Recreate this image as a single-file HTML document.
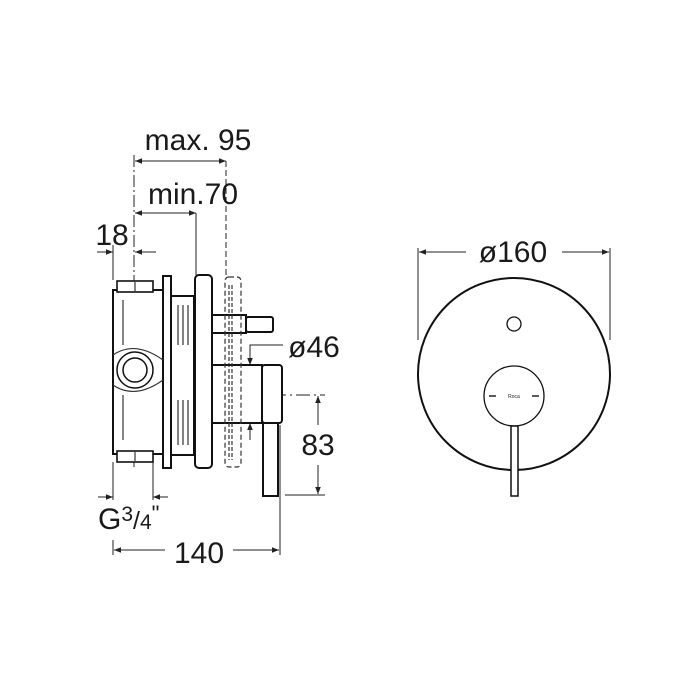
<!DOCTYPE html>
<html><head><style>body{margin:0;background:#fff}svg{display:block}text{font-family:"Liberation Sans",sans-serif;fill:#1a1a1a}</style></head>
<body>
<svg width="700" height="700" viewBox="0 0 700 700" xmlns="http://www.w3.org/2000/svg">
<defs>
<marker id="a" viewBox="0 0 10 10" refX="10" refY="5" markerWidth="9" markerHeight="7" orient="auto-start-reverse" markerUnits="userSpaceOnUse"><path d="M0,1 L10,5 L0,9 Z" fill="#222"/></marker>
</defs>
<g stroke="#222" fill="none" stroke-width="1">
<line x1="135" y1="161" x2="226" y2="161" marker-start="url(#a)" marker-end="url(#a)"/>
<line x1="135" y1="213" x2="196" y2="213" marker-start="url(#a)" marker-end="url(#a)"/>
<line x1="97" y1="252" x2="113" y2="252" marker-end="url(#a)"/>
<line x1="156" y1="252" x2="135" y2="252" marker-end="url(#a)"/>
<line x1="134" y1="155" x2="134" y2="470" stroke-dasharray="12,3,2,3"/>
<line x1="113" y1="245" x2="113" y2="280"/>
<line x1="196" y1="213" x2="196" y2="275"/>
<line x1="226" y1="161" x2="226" y2="275" stroke-dasharray="6,3"/>
<polyline points="283,345 250,345 250,365" marker-end="url(#a)"/>
<line x1="250" y1="440" x2="250" y2="423" marker-end="url(#a)"/>
<line x1="200" y1="395" x2="325" y2="395" stroke-dasharray="14,4,2,4"/>
<line x1="285" y1="495" x2="325" y2="495"/>
<line x1="318" y1="425" x2="318" y2="396" marker-end="url(#a)"/>
<line x1="318" y1="465" x2="318" y2="494" marker-end="url(#a)"/>
<line x1="113" y1="462" x2="113" y2="500"/>
<line x1="153" y1="462" x2="153" y2="500"/>
<line x1="98" y1="497" x2="113" y2="497" marker-end="url(#a)"/>
<line x1="168" y1="497" x2="153" y2="497" marker-end="url(#a)"/>
<line x1="113" y1="540" x2="113" y2="555"/>
<line x1="280" y1="425" x2="280" y2="555"/>
<line x1="165" y1="550" x2="114" y2="550" marker-end="url(#a)"/>
<line x1="233" y1="550" x2="279" y2="550" marker-end="url(#a)"/>
<line x1="418" y1="248" x2="418" y2="340"/>
<line x1="610" y1="248" x2="610" y2="340"/>
<line x1="466" y1="252" x2="419" y2="252" marker-end="url(#a)"/>
<line x1="562" y1="252" x2="609" y2="252" marker-end="url(#a)"/>
</g>
<g stroke="#111" fill="#fff" stroke-width="2">
<rect x="113" y="290" width="50" height="164"/>
<rect x="117" y="281" width="36" height="11" stroke-width="1.6"/>
<rect x="117" y="451" width="36" height="11" stroke-width="1.6"/>
<circle cx="135" cy="370" r="18" stroke-width="1.5"/>
<circle cx="135" cy="370" r="12" stroke-width="1.5"/>
<rect x="163" y="276" width="8" height="192"/>
<rect x="171" y="296" width="23" height="159"/>
<rect x="195" y="275" width="17" height="193" rx="4"/>
<rect x="212" y="315" width="34" height="18"/>
<rect x="246" y="317" width="27" height="15" rx="2"/>
<rect x="212" y="365" width="50" height="58"/>
<rect x="262" y="365" width="20" height="58" rx="3"/>
<rect x="263" y="423" width="15" height="73"/>
</g>
<g stroke="#333" stroke-width="1.2" fill="none">
<line x1="135" y1="282" x2="135" y2="291"/><line x1="135" y1="452" x2="135" y2="461"/>
<rect x="225" y="277" width="16" height="190" rx="4" stroke-dasharray="5,3"/>
<line x1="229" y1="285" x2="229" y2="460" stroke-dasharray="4,2"/>
<line x1="232" y1="285" x2="232" y2="460" stroke-dasharray="4,2"/>
<path d="M113,355 Q135,340 163,360 M113,385 Q135,400 163,380"/>
<line x1="123" y1="300" x2="123" y2="345"/>
<line x1="123" y1="395" x2="123" y2="440"/>
<line x1="178" y1="305" x2="178" y2="345"/><line x1="183" y1="305" x2="183" y2="345"/><line x1="188" y1="305" x2="188" y2="345"/>
<line x1="178" y1="400" x2="178" y2="445"/><line x1="183" y1="400" x2="183" y2="445"/><line x1="188" y1="400" x2="188" y2="445"/>
</g>
<g stroke="#111" fill="#fff" stroke-width="2">
<circle cx="514" cy="374" r="96"/>
<circle cx="514" cy="324" r="7" stroke-width="1.3"/>
<circle cx="514" cy="396" r="30" stroke-width="1.3"/>
<rect x="511" y="426" width="7" height="70" stroke-width="1.5"/>
</g>
<g stroke="#222" stroke-width="1.5"><line x1="489" y1="396" x2="496" y2="396"/><line x1="532" y1="396" x2="539" y2="396"/></g>
<text x="514" y="398" font-size="5" text-anchor="middle">Roca</text>
<g font-size="30">
<text x="198" y="150" text-anchor="middle">max. 95</text>
<text x="193" y="204" text-anchor="middle">min.70</text>
<text x="112" y="245" text-anchor="middle">18</text>
<text x="314" y="357" text-anchor="middle">ø46</text>
<text x="318" y="455" text-anchor="middle">83</text>
<text x="199" y="563" text-anchor="middle">140</text>
<text x="513" y="262" text-anchor="middle">ø160</text>
<text x="98" y="529">G<tspan font-size="21" dy="-8">3</tspan><tspan font-size="25" dy="8">/</tspan><tspan font-size="21">4</tspan><tspan font-size="22" dy="-8">"</tspan></text>
</g>
</svg>
</body></html>
